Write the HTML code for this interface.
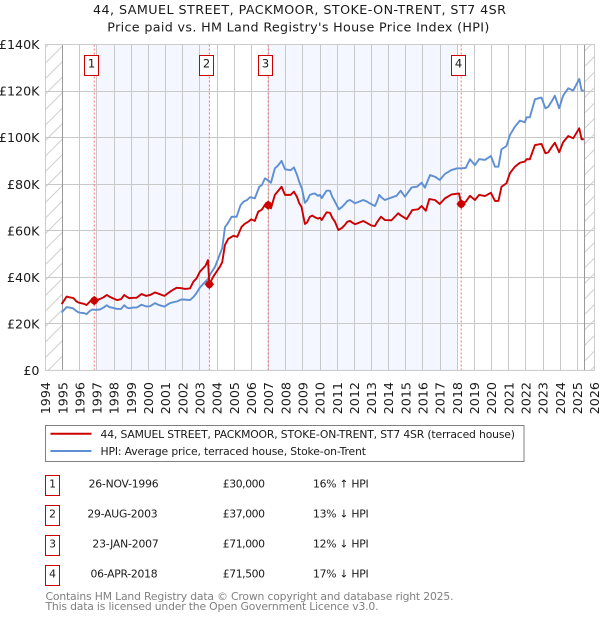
<!DOCTYPE html>
<html>
<head>
<meta charset="utf-8">
<title>44, Samuel Street price chart</title>
<style>
html,body{margin:0;padding:0;background:#fff;}
svg{display:block;font-family:"DejaVu Sans","Liberation Sans",sans-serif;}
text{fill:#1a1a1a;}
</style>
</head>
<body>
<svg id="chart" width="600" height="620" viewBox="0 0 600 620" xmlns="http://www.w3.org/2000/svg">
<defs>
<pattern id="hatch" width="15.5" height="15.5" patternUnits="userSpaceOnUse">
<path d="M-1 16.5 L16.5 -1 M-1 1 L1 -1 M14.5 16.5 L16.5 14.5" stroke="#cfcfcf" stroke-width="1" fill="none"/>
</pattern>
</defs>
<text x="299.5" y="14" text-anchor="middle" font-size="12.7" textLength="413" lengthAdjust="spacing">44, SAMUEL STREET, PACKMOOR, STOKE-ON-TRENT, ST7 4SR</text>
<text x="298.3" y="31.5" text-anchor="middle" font-size="12.7" textLength="382" lengthAdjust="spacing">Price paid vs. HM Land Registry's House Price Index (HPI)</text>
<g id="plot"></g>

<g>
<rect x="45.5" y="425.5" width="478.5" height="36" fill="#fff" stroke="#808080" stroke-width="1"/>
<line x1="50.5" x2="91.5" y1="433.7" y2="433.7" stroke="#cc0000" stroke-width="2"/>
<text x="100.5" y="438" font-size="10.8" textLength="414.5" lengthAdjust="spacing">44, SAMUEL STREET, PACKMOOR, STOKE-ON-TRENT, ST7 4SR (terraced house)</text>
<line x1="50.5" x2="91.5" y1="451" y2="451" stroke="#5f8fd3" stroke-width="2"/>
<text x="100.5" y="455" font-size="10.8" textLength="265.5" lengthAdjust="spacing">HPI: Average price, terraced house, Stoke-on-Trent</text>
</g>

<g font-size="10.8">
<g>
<rect x="45.5" y="475.5" width="14" height="20" fill="#fff" stroke="#cc0000"/>
<text x="52.5" y="487.3" text-anchor="middle">1</text>
<text x="88.6" y="487.3" textLength="70" lengthAdjust="spacing">26-NOV-1996</text>
<text x="222.8" y="487.3" textLength="42.2" lengthAdjust="spacing">£30,000</text>
<text x="313" y="487.3" textLength="55.7" lengthAdjust="spacing">16% ↑ HPI</text>
</g>
<g>
<rect x="45.5" y="505.5" width="14" height="20" fill="#fff" stroke="#cc0000"/>
<text x="52.5" y="517.3" text-anchor="middle">2</text>
<text x="87.4" y="517.3" textLength="70.2" lengthAdjust="spacing">29-AUG-2003</text>
<text x="222.8" y="517.3" textLength="42.2" lengthAdjust="spacing">£37,000</text>
<text x="313" y="517.3" textLength="55.7" lengthAdjust="spacing">13% ↓ HPI</text>
</g>
<g>
<rect x="45.5" y="535.5" width="14" height="20" fill="#fff" stroke="#cc0000"/>
<text x="52.5" y="547.3" text-anchor="middle">3</text>
<text x="92.4" y="547.3" textLength="66.3" lengthAdjust="spacing">23-JAN-2007</text>
<text x="222.8" y="547.3" textLength="42.2" lengthAdjust="spacing">£71,000</text>
<text x="313" y="547.3" textLength="55.7" lengthAdjust="spacing">12% ↓ HPI</text>
</g>
<g>
<rect x="45.5" y="565.5" width="14" height="20" fill="#fff" stroke="#cc0000"/>
<text x="52.5" y="577.3" text-anchor="middle">4</text>
<text x="90.5" y="577.3" textLength="67.1" lengthAdjust="spacing">06-APR-2018</text>
<text x="222.8" y="577.3" textLength="42.2" lengthAdjust="spacing">£71,500</text>
<text x="313" y="577.3" textLength="55.7" lengthAdjust="spacing">17% ↓ HPI</text>
</g>
</g>

<text x="45.5" y="600" font-size="10.8" style="fill:#808080" textLength="408" lengthAdjust="spacing">Contains HM Land Registry data © Crown copyright and database right 2025.</text>
<text x="45.5" y="610" font-size="10.8" style="fill:#808080" textLength="333" lengthAdjust="spacing">This data is licensed under the Open Government Licence v3.0.</text>
</svg>
<script>
var yearTicks = [1994,1995,1996,1997,1998,1999,2000,2001,2002,2003,2004,2005,2006,2007,2008,2009,2010,2011,2012,2013,2014,2015,2016,2017,2018,2019,2020,2021,2022,2023,2024,2025,2026];
var priceTicks = [0,20,40,60,80,100,120,140];
var priceTickLabels = ['£0','£20K','£40K','£60K','£80K','£100K','£120K','£140K'];

var hpiDates = [1994.94,1995.08,1995.23,1995.4,1995.62,1995.78,1995.91,1996.0,1996.24,1996.4,1996.59,1996.75,1996.9,1997.18,1997.38,1997.57,1997.72,1997.86,1998.18,1998.4,1998.59,1998.74,1998.88,1999.1,1999.31,1999.6,1999.86,2000.1,2000.38,2000.57,2000.75,2000.93,2001.26,2001.45,2001.65,2001.93,2002.13,2002.42,2002.62,2002.81,2003.0,2003.2,2003.33,2003.47,2003.62,2003.88,2004.17,2004.3,2004.46,2004.65,2004.85,2005.14,2005.37,2005.55,2005.75,2005.92,2006.2,2006.46,2006.6,2006.79,2007.0,2007.14,2007.37,2007.55,2007.76,2007.96,2008.29,2008.48,2008.66,2008.79,2008.95,2009.12,2009.25,2009.41,2009.55,2009.7,2009.88,2010.0,2010.1,2010.38,2010.58,2010.72,2010.87,2011.1,2011.28,2011.45,2011.6,2011.75,2011.9,2012.04,2012.25,2012.52,2012.72,2012.9,2013.2,2013.32,2013.45,2013.6,2013.78,2014.07,2014.3,2014.46,2014.7,2014.95,2015.34,2015.65,2015.92,2016.12,2016.41,2016.7,2016.98,2017.28,2017.67,2018.0,2018.26,2018.5,2018.74,2019.03,2019.28,2019.61,2019.96,2020.2,2020.4,2020.58,2020.87,2021.07,2021.36,2021.65,2021.94,2022.04,2022.23,2022.53,2022.91,2023.14,2023.3,2023.49,2023.69,2023.94,2024.17,2024.47,2024.76,2025.11,2025.25,2025.38];
var hpiValues = [24.8,26,27.2,27,26.6,25.6,25,24.8,24.6,24.2,25.6,26.2,26,26.2,27,28,27.2,27,26.4,26.4,28,27,26.7,27,27,28.2,27.5,27.6,28.9,28.2,27.8,27.4,28.9,29.3,29.6,30.5,30.4,30.2,31.5,33.3,35.6,37.2,38.2,39.2,41.5,44.5,50,52.5,61.5,63.5,66,66,71,72.5,73.2,74.4,73.9,78.9,79.5,82.5,81.5,80.6,86.8,88,90,86.4,86,87.2,84,81,78,72,73,75.4,75.8,76,75,75.4,74,77.2,77.2,74.5,72.5,69.2,70.2,71.5,72.8,73.2,72.5,71.8,72.4,73.2,72.6,71.8,70.6,72.5,75.4,74.2,73.2,74,74.6,75,77.2,74.6,78.6,78.9,80.6,78.5,83.9,83.2,81.8,84.4,86.1,86.8,86.8,87,90.7,88.2,90.8,90.4,92.1,87.5,87.5,95,96.4,101.1,104.7,107.3,106.6,108.7,108.7,116.5,117.2,112.6,113.2,115.4,118,112.6,118,121.2,120.2,125.2,120.2,120.2];

var saleDates = [1994.94,1995.08,1995.23,1995.4,1995.62,1995.78,1995.91,1996.0,1996.24,1996.4,1996.59,1996.75,1996.9,1997.18,1997.38,1997.57,1997.72,1997.86,1998.18,1998.4,1998.59,1998.74,1998.88,1999.1,1999.31,1999.6,1999.86,2000.1,2000.38,2000.57,2000.75,2000.93,2001.26,2001.45,2001.65,2001.93,2002.13,2002.42,2002.62,2002.81,2003.0,2003.2,2003.33,2003.47,2003.55,2003.78,2004.17,2004.3,2004.46,2004.65,2004.95,2005.18,2005.43,2005.62,2005.82,2006.0,2006.2,2006.4,2006.6,2006.79,2006.98,2007.14,2007.37,2007.55,2007.76,2007.96,2008.29,2008.48,2008.66,2008.79,2008.92,2009.12,2009.25,2009.41,2009.55,2009.7,2009.88,2010.0,2010.1,2010.38,2010.58,2010.72,2010.87,2011.07,2011.28,2011.45,2011.6,2011.75,2011.9,2012.04,2012.2,2012.52,2012.72,2013.0,2013.2,2013.32,2013.55,2013.78,2014.17,2014.56,2014.7,2015.05,2015.38,2015.72,2015.92,2016.17,2016.37,2016.7,2016.98,2017.28,2017.67,2018.1,2018.23,2018.5,2018.74,2019.03,2019.28,2019.61,2019.96,2020.2,2020.4,2020.58,2020.87,2021.07,2021.36,2021.65,2021.94,2022.04,2022.23,2022.53,2022.91,2023.14,2023.3,2023.49,2023.69,2023.94,2024.17,2024.47,2024.76,2025.11,2025.25,2025.38];
var saleValues = [28.5,30,31.7,31.4,31.1,29.8,29.2,29,28.6,28.1,29.6,30.1,30,30.7,31.4,32.4,31.7,31.2,30.2,30.6,32.4,31.6,31,31.2,31.2,32.8,32,32.4,33.5,33,32.5,32,33.8,34.7,35.5,35.3,35,35.2,38.1,39.6,42.4,44,45,47.4,37,40.3,44.6,46.5,53.9,56.5,57.8,57.4,61.7,63,63.9,64.9,64.2,68.2,69,71,71,69.6,75.4,77,78.9,75.4,75.4,76.8,74.5,71.8,70.3,62.9,63.6,66,66.5,65.8,65.2,65.6,64.6,67.9,67.7,65.5,63.9,60.3,61.2,62.5,63.9,64.2,63.4,62.8,63.2,64.2,63.4,62.2,62,63.6,66,64.6,64.5,67.5,66.6,65,68.9,69.2,70.6,68.6,73.6,73.2,71.5,73.9,75.6,76,71.5,72.5,75,73.2,75.4,74.9,76.3,72.8,72.8,78.9,80.4,84.7,87.5,89.2,89.7,90.7,90.7,96.8,97.3,93.3,93.6,95.8,97.8,93.7,98,100.7,99.7,104,99.3,99.3];

var markerIds = ['1','2','3','4'];
var markerDates = [1996.84,2003.55,2006.98,2018.23];
var markerPrices = [30,37,71,71.5];
var bandStarts = [1997,2006.98];
var bandEnds = [2003.55,2018];

var plotLeft = 45.5, plotRight = 594.5, plotTop = 44.5, plotBottom = 370.4;
function xAxis(year){ return plotLeft + (year - 1994) * (plotRight - plotLeft) / 32; }
function yAxis(value){ return plotBottom - value * (plotBottom - plotTop) / 140; }
var NS = 'http://www.w3.org/2000/svg';
var plot = document.getElementById('plot');
function make(tag, attrs, parent){
  var el = document.createElementNS(NS, tag);
  for (var k in attrs) el.setAttribute(k, attrs[k]);
  (parent || plot).appendChild(el);
  return el;
}
function linePath(dates, values){
  return dates.map(function(d, i){
    return (i ? 'L' : 'M') + xAxis(d).toFixed(2) + ' ' + yAxis(values[i]).toFixed(2);
  }).join(' ');
}

bandStarts.forEach(function(s, i){
  var band = make('rect', {x: xAxis(s), y: plotTop, width: xAxis(bandEnds[i]) - xAxis(s), height: plotBottom - plotTop, fill: '#f4f7ff'});
  
  
});

var hatchLeft = make('rect', {x: plotLeft, y: plotTop, width: xAxis(1995) - plotLeft, height: plotBottom - plotTop, fill: 'url(#hatch)'});


var hatchRight = make('rect', {x: xAxis(2025.42), y: plotTop, width: plotRight - xAxis(2025.42), height: plotBottom - plotTop, fill: 'url(#hatch)'});



yearTicks.forEach(function(year){
  var px = Math.floor(xAxis(year)) + 0.5;
  var g = make('line', {x1: px, x2: px, y1: plotTop, y2: plotBottom, stroke: '#c8c8c8', 'stroke-width': 1});
  
  
  var t = make('text', {transform: 'translate(' + (xAxis(year) + 4.6) + ',382) rotate(-90)', 'text-anchor': 'end', 'font-size': 12.7});
  
  
  t.textContent = String(year);
});
priceTicks.forEach(function(value, i){
  var py = Math.floor(yAxis(value)) + 0.5;
  var g = make('line', {x1: plotLeft, x2: plotRight, y1: py, y2: py, stroke: '#c8c8c8', 'stroke-width': 1});
  
  
  var t = make('text', {x: 39.5, y: yAxis(value) + 4.6, 'text-anchor': 'end', 'font-size': 12.7});
  
  
  t.textContent = priceTickLabels[i];
});

var startEdge = make('line', {x1: 62.5, x2: 62.5, y1: plotTop, y2: plotBottom, stroke: '#999', 'stroke-width': 1});


var endEdge = make('line', {x1: 584.5, x2: 584.5, y1: plotTop, y2: plotBottom, stroke: '#999', 'stroke-width': 1});



markerDates.forEach(function(d){
  var v = make('line', {x1: xAxis(d), x2: xAxis(d), y1: plotTop, y2: plotBottom, stroke: '#ff6b78', 'stroke-width': 1, 'stroke-dasharray': '2 2'});
  
  
});

var hpiLine = make('path', {d: linePath(hpiDates, hpiValues), fill: 'none', stroke: '#5f8fd3', 'stroke-width': 1.9, 'stroke-linejoin': 'round'});


var saleLine = make('path', {d: linePath(saleDates, saleValues), fill: 'none', stroke: '#cc0000', 'stroke-width': 1.9, 'stroke-linejoin': 'round'});



markerDates.forEach(function(d, i){
  var cx = xAxis(d), cy = yAxis(markerPrices[i]);
  var dot = make('circle', {cx: cx, cy: cy, r: 3.8, fill: '#cc0000'});
  
  
  var tip = make('polygon', {points: (cx - 4.8) + ',' + cy + ' ' + cx + ',' + (cy - 4.8) + ' ' + (cx + 4.8) + ',' + cy + ' ' + cx + ',' + (cy + 4.8), fill: '#cc0000'});
  
  
  var bx = Math.round(cx - 3 - 7) + 0.5;
  var box = make('rect', {x: bx, y: 55.5, width: 14, height: 20, fill: '#fff', stroke: '#cc0000', 'stroke-width': 1});
  
  
  var label = make('text', {x: bx + 7, y: 67.5, 'text-anchor': 'middle', 'font-size': 11.5});
  
  
  label.textContent = markerIds[i];
});

var frame = make('rect', {x: plotLeft, y: plotTop, width: plotRight - plotLeft, height: plotBottom - plotTop, fill: 'none', stroke: '#cccccc', 'stroke-width': 1});


</script>
</body>
</html>
